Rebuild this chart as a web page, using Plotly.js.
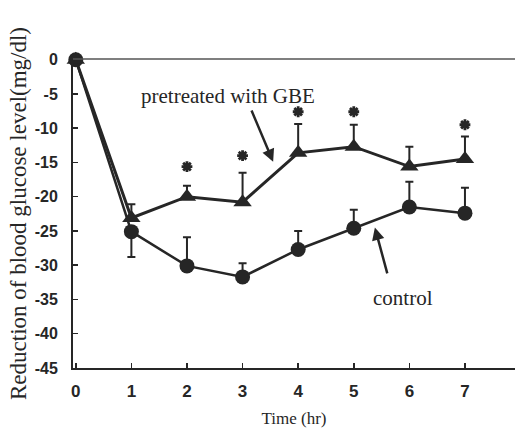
<!DOCTYPE html>
<html>
<head>
<meta charset="utf-8">
<script src="https://cdn.plot.ly/plotly-3.0.1.min.js"></script>
<style>html,body{margin:0;padding:0;background:#fff;}#chart{width:516px;height:431px;}</style>
</head>
<body>
<div id="chart"></div>
<script>
// Data
const timeHr = [0, 1, 2, 3, 4, 5, 6, 7];
const gbeMean = [0, -23.1, -20.0, -20.8, -13.6, -12.7, -15.6, -14.5];
const gbeErrUp = [0, 2.0, 1.6, 4.3, 4.2, 3.2, 2.9, 3.3];
const ctrlMean = [0, -25.1, -30.1, -31.7, -27.7, -24.6, -21.5, -22.4];
const ctrlErrUp = [0, 0, 4.2, 2.0, 2.7, 2.7, 3.7, 3.7];
const ctrlErrDown = [0, 3.7, 0, 0, 0, 0, 0, 0];
const starTimes = [2, 3, 4, 5, 7];
const starY = [-15.6, -14.0, -7.6, -7.6, -9.5];
const yTickVals = [0, -5, -10, -15, -20, -25, -30, -35, -40, -45];
const yTickText = ['0', '-5', '-10', '-15', '-20', '-25', '-30', '-35', '-40', '-45'];
const xTickVals = [0, 1, 2, 3, 4, 5, 6, 7];

const ink = '#262626';

const traces = [
  {
    x: timeHr, y: ctrlMean, type: 'scatter', mode: 'lines+markers', cliponaxis: false,
    line: {color: ink, width: 2.5},
    marker: {symbol: 'circle', size: 15, color: ink},
    error_y: {type: 'data', symmetric: false, array: ctrlErrUp, arrayminus: ctrlErrDown,
              color: ink, thickness: 2, width: 4},
    showlegend: false, hoverinfo: 'skip'
  },
  {
    x: timeHr, y: gbeMean, type: 'scatter', mode: 'lines+markers', cliponaxis: false,
    line: {color: ink, width: 3},
    marker: {symbol: 'triangle-up', size: 16, color: ink},
    error_y: {type: 'data', symmetric: false, array: gbeErrUp, arrayminus: gbeErrUp.map(() => 0),
              color: ink, thickness: 2, width: 4},
    showlegend: false, hoverinfo: 'skip'
  },
  {
    x: starTimes, y: starY, type: 'scatter', mode: 'markers', cliponaxis: false,
    marker: {symbol: 'asterisk-open', size: 9, color: ink, line: {color: ink, width: 2.8}},
    showlegend: false, hoverinfo: 'skip'
  }
];

const serif = 'Liberation Serif, Times New Roman, serif';
const sans = 'Liberation Sans, Arial, sans-serif';

const layout = {
  width: 516, height: 431,
  margin: {l: 73, r: 1, t: 59, b: 63},
  paper_bgcolor: '#fff', plot_bgcolor: '#fff',
  xaxis: {
    range: [-0.05, 7.9], tickvals: xTickVals, ticks: 'inside', ticklen: 5, tickwidth: 1.5,
    tickcolor: ink, showline: true, linecolor: ink, linewidth: 2, showgrid: false, zeroline: false,
    ticklabelstandoff: 7,
    tickfont: {family: sans, size: 17, color: ink, weight: 700},
    title: {text: 'Time (hr)', font: {family: serif, size: 17, color: ink}, standoff: 12}
  },
  yaxis: {
    range: [-45, 0.1], tickvals: yTickVals, ticktext: yTickText, ticks: 'inside', ticklen: 5, tickwidth: 1.5,
    tickcolor: ink, showline: true, linecolor: ink, linewidth: 2, showgrid: false, zeroline: false,
    ticklabelstandoff: 10,
    tickfont: {family: sans, size: 16, color: ink, weight: 700},
    title: {text: 'Reduction of blood glucose level(mg/dl)', font: {family: serif, size: 23, color: ink}, standoff: 2}
  },
  shapes: [
    {type: 'line', xref: 'paper', yref: 'paper', x0: 0, x1: 1, y0: 1, y1: 1, line: {color: '#555', width: 1.5}}
  ],
  annotations: [
    {x: 2.74, y: -5.3, xref: 'x', yref: 'y', text: 'pretreated with GBE', showarrow: false,
     font: {family: serif, size: 21, color: ink}},
    {x: 3.55, y: -14.9, ax: 3.15, ay: -7.2, axref: 'x', ayref: 'y', xref: 'x', yref: 'y', text: '',
     showarrow: true, arrowhead: 2, arrowsize: 1, arrowwidth: 2.5, arrowcolor: ink},
    {x: 5.88, y: -34.8, xref: 'x', yref: 'y', text: 'control', showarrow: false,
     font: {family: serif, size: 21, color: ink}},
    {x: 5.38, y: -24.5, ax: 5.61, ay: -31.4, axref: 'x', ayref: 'y', xref: 'x', yref: 'y', text: '',
     showarrow: true, arrowhead: 2, arrowsize: 1, arrowwidth: 2.5, arrowcolor: ink}
  ]
};

Plotly.newPlot('chart', traces, layout, {displayModeBar: false, staticPlot: true});
</script>
</body>
</html>
